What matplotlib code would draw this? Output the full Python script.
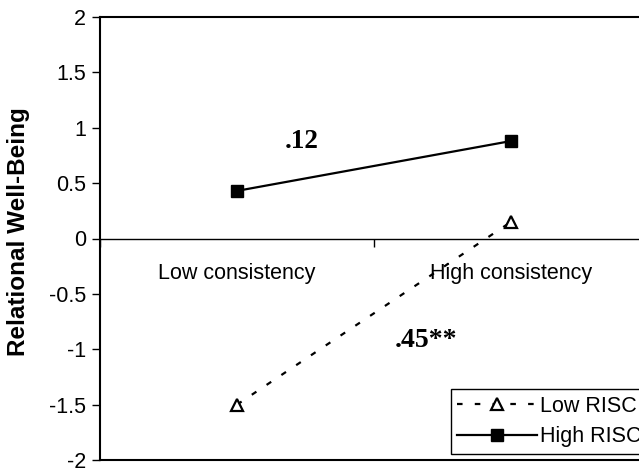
import matplotlib.pyplot as plt

# consistency conditions and relational well-being by RISC group
conditions = ["Low consistency", "High consistency"]
low_risc = [-1.5, 0.15]
high_risc = [0.43, 0.88]
slope_labels = [".12", ".45**"]

plt.rcParams['font.family'] = ['Liberation Sans', 'DejaVu Sans']

fig = plt.figure(figsize=(6.39, 4.68), dpi=100)
ax = fig.add_axes([100 / 639, 8 / 468, 548 / 639, 443 / 468])

xpos = [0.5, 1.5]
ax.plot(xpos, low_risc, color='black', linestyle=(0, (2.5, 5.5)), linewidth=1.6,
        marker='^', markersize=9, markerfacecolor='white', markeredgewidth=1.6,
        label='Low RISC')
ax.plot(xpos, high_risc, color='black', linestyle='-', linewidth=1.6,
        marker='s', markersize=9, markerfacecolor='black', label='High RISC')

# slope annotations
ax.text(0.675, 0.88, slope_labels[0], fontsize=19.5, fontweight='bold',
        family='Liberation Serif', ha='left', va='center')
ax.text(1.077, -0.92, slope_labels[1], fontsize=20, fontweight='bold',
        family='Liberation Serif', ha='left', va='center')

ax.set_xlim(0, 2)
ax.set_ylim(-2, 2)
ax.set_yticks([-2, -1.5, -1, -0.5, 0, 0.5, 1, 1.5, 2])
ax.set_yticklabels(['-2', '-1.5', '-1', '-0.5', '0', '0.5', '1', '1.5', '2'])
ax.tick_params(axis='y', direction='out', length=6, width=1, labelsize=15.5, pad=4)

# category axis crossing at zero
ax.spines['bottom'].set_position(('data', 0))
ax.spines['bottom'].set_linewidth(1)
ax.set_xticks([0, 1, 2])
ax.set_xticklabels([])
ax.set_xticks(xpos, minor=True)
ax.set_xticklabels(conditions, minor=True)
ax.tick_params(axis='x', which='major', direction='out', length=6, width=1)
ax.tick_params(axis='x', which='minor', length=0, labelsize=15.5, pad=18)
ax.axhline(-2, color='black', linewidth=1.5, clip_on=False)
for side in ['left', 'top', 'right']:
    ax.spines[side].set_linewidth(1.5)

ax.set_ylabel('Relational Well-Being', fontsize=17.5, fontweight='bold')
ax.yaxis.set_label_coords(-0.128, 0.515)

leg = ax.legend(loc='lower right', bbox_to_anchor=(1.0, 0.014), fontsize=15.5,
                handlelength=3.7, handletextpad=0.15, borderaxespad=0,
                borderpad=0.3, labelspacing=0.45, fancybox=False, framealpha=1)
leg.get_frame().set_edgecolor('black')
leg.get_frame().set_linewidth(1)

fig.savefig('out.png', dpi=100)
